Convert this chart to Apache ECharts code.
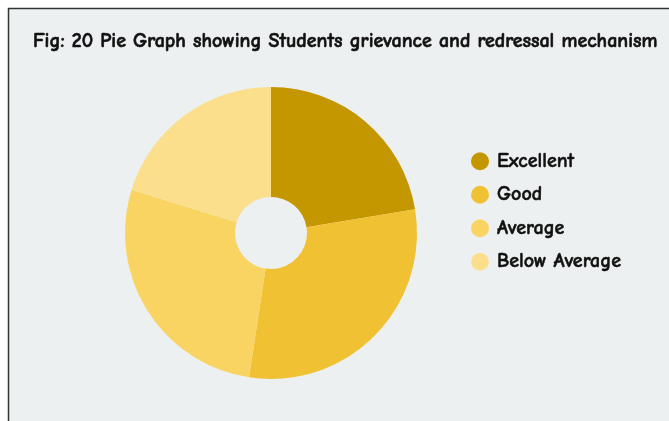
<!DOCTYPE html>
<html><head><meta charset="utf-8">
<script src="https://cdn.jsdelivr.net/npm/echarts@6/dist/echarts.min.js"></script>
<style>html,body{margin:0;padding:0;background:#fff}#c{width:669px;height:421px}</style>
</head><body><div id="c"></div>
<script>
const categories = ["Excellent", "Good", "Average", "Below Average"];
const values = [22.4, 30.0, 27.4, 20.2];
const colors = ["#C49600", "#F0C132", "#FAD462", "#FCDF8C"];
const titleText = "Fig: 20 Pie Graph showing Students grievance and redressal mechanism";
const fontFam = "'Comic Sans MS','Comic Neue','DejaVu Sans',sans-serif";

const chart = echarts.init(document.getElementById('c'), null, {renderer: 'canvas'});
chart.setOption({
  animation: false,
  backgroundColor: '#ffffff',
  graphic: [{
    type: 'rect', z: -10, silent: true,
    shape: {x: 8.5, y: 8.5, width: 680, height: 420},
    style: {fill: '#EDF0F1', stroke: '#333', lineWidth: 1.5}
  }],
  title: {
    text: titleText, left: 28, top: 26,
    textStyle: {fontFamily: fontFam, fontWeight: 'bold', fontSize: 20, color: '#111',
      textBorderColor: '#111', textBorderWidth: 0.6}
  },
  legend: {
    orient: 'vertical', left: 466, top: 146, icon: 'circle',
    itemWidth: 18, itemHeight: 18, itemGap: 13,
    textStyle: {fontFamily: fontFam, fontWeight: 'bold', fontSize: 20, color: '#111', padding: [0,0,0,3],
      textBorderColor: '#111', textBorderWidth: 0.5},
    data: categories
  },
  series: [{
    type: 'pie', center: [271, 233], radius: [36, 146], startAngle: 90, clockwise: true,
    label: {show: false}, labelLine: {show: false},
    itemStyle: {borderWidth: 0},
    emphasis: {disabled: true},
    data: categories.map((c, i) => ({name: c, value: values[i], itemStyle: {color: colors[i]}}))
  }]
});
</script></body></html>
